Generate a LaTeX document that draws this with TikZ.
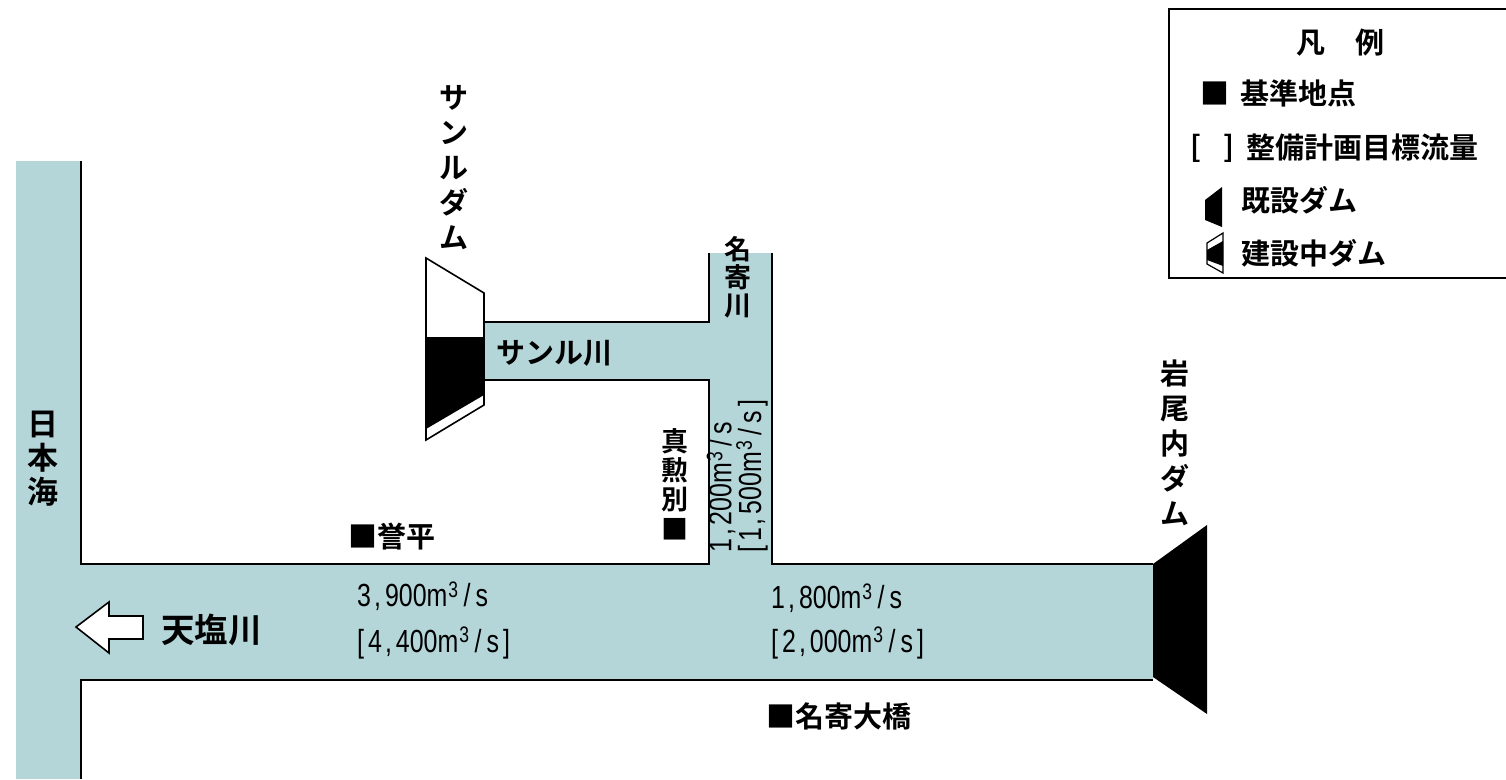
\documentclass[tikz,border=0pt]{standalone}
\usepackage{fontspec}
\newfontfamily\jp{Noto Sans CJK JP Bold}
\newfontfamily\num[FakeStretch=0.78]{Liberation Sans}
\definecolor{river}{HTML}{B5D6D9}
\tikzset{
  bank/.style={draw=black,line width=1.6pt},
  jplabel/.style={inner sep=0pt,text=black,font=\jp\fontsize{29}{35}\selectfont},
  vert/.style={jplabel,align=center},
  flow/.style={inner sep=0pt,anchor=west,font=\num\fontsize{32}{34}\selectfont},
  rotflow/.style={inner sep=0pt,anchor=west,rotate=90,font=\num\fontsize{32}{34}\selectfont},
  damblack/.style={fill=black,draw=none},
  damwhite/.style={fill=white,draw=black,line width=1.6pt,line join=miter}
}
\newcommand{\cub}{m\hspace{1pt}\textsuperscript{3}\hspace{5pt}/\hspace{5pt}s}
\newcommand{\cm}{\hspace{3pt},\hspace{4pt}}
\newcommand{\lb}{[\hspace{4pt}}
\newcommand{\rb}{\hspace{4pt}]}
\begin{document}
\begin{tikzpicture}[x=1pt,y=-1pt]
\useasboundingbox (0,0) rectangle (1506,779);
% rivers
\fill[river] (16,161) -- (81,161) -- (81,564) -- (709,564) -- (709,380) -- (484,380) -- (484,322) -- (709,322) -- (709,253) -- (772,253) -- (772,564) -- (1153,564) -- (1153,680) -- (81,680) -- (81,779) -- (16,779) -- cycle;
\draw[bank] (81,161) -- (81,564) -- (709,564) -- (709,380) -- (484,380);
\draw[bank] (484,322) -- (709,322) -- (709,253);
\draw[bank] (772,253) -- (772,564) -- (1153,564);
\draw[bank] (1153,680) -- (81,680) -- (81,779);
% Sanru dam
\draw[damwhite] (426,258) -- (484,293) -- (484,405) -- (426,440) -- cycle;
\fill[damblack] (426,337) -- (484,337) -- (484,395) -- (426,429) -- cycle;
% Iwaonai dam
\fill[damblack] (1153,564) -- (1207,525) -- (1207,714) -- (1153,677) -- cycle;
% arrow
\draw[fill=white,line width=1.6pt] (76,627) -- (109,602) -- (109,616) -- (143,616) -- (143,639) -- (109,639) -- (109,653) -- cycle;
% labels
\node[vert,anchor=north] (sanrudam) at (454,85) {サ\\ン\\ル\\ダ\\ム};
\node[vert,anchor=north] (iwaonai) at (1175,360) {岩\\尾\\内\\ダ\\ム};
\node[vert,anchor=north,font=\jp\fontsize{31}{34}\selectfont] (sea) at (43,411) {日\\本\\海};
\node[vert,anchor=north,font=\jp\fontsize{27}{28}\selectfont] (nayoro) at (738,236) {名\\寄\\川};
\node[vert,anchor=north,font=\jp\fontsize{27}{29.3}\selectfont] (mag) at (675,428) {真\\勲\\別\\■};
\node[jplabel,anchor=west] (sanrugawa) at (496,353) {サンル川};
\node[jplabel,anchor=west,font=\jp\fontsize{33.5}{36}\selectfont] (teshio) at (161,630) {天塩川};
\node[jplabel,anchor=west] (homarehira) at (348,537) {■誉平};
\node[jplabel,anchor=west] (ohashi) at (766,716) {■名寄大橋};
% flows
\node[flow] (f1) at (357,596) {3\cm900\cub};
\node[flow] (f2) at (357,643) {\lb 4\cm400\cub\rb};
\node[flow] (f3) at (771,598) {1\cm800\cub};
\node[flow] (f4) at (771,643) {\lb 2\cm000\cub\rb};
\node[rotflow] (f5) at (721,553) {1\cm200\cub};
\node[rotflow] (f6) at (752,553) {\lb 1\cm500\cub\rb};
% legend
\draw[line width=1.6pt] (1506,9) -- (1169,9) -- (1169,278) -- (1506,278);
\node[jplabel] (lt1) at (1311,43) {凡};
\node[jplabel] (lt2) at (1370,43) {例};
\node[jplabel,anchor=west] (l1m) at (1200,93) {■};
\node[jplabel,anchor=west] (l1) at (1240,93) {基準地点};
\node[jplabel,anchor=west] (l2m) at (1190,148) {[\hspace{22pt}]};
\node[jplabel,anchor=west] (l2) at (1246,148) {整備計画目標流量};
\node[jplabel,anchor=west] (l3) at (1241,200) {既設ダム};
\node[jplabel,anchor=west] (l4) at (1241,253) {建設中ダム};
\fill[damblack] (1205,200) -- (1222,187) -- (1222,227) -- (1205,220) -- cycle;
\draw[fill=white,line width=1.2pt] (1207,243) -- (1223,233) -- (1223,273) -- (1207,264) -- cycle;
\fill[damblack] (1207,250) -- (1223,241) -- (1223,266) -- (1207,260) -- cycle;
\end{tikzpicture}
\end{document}
